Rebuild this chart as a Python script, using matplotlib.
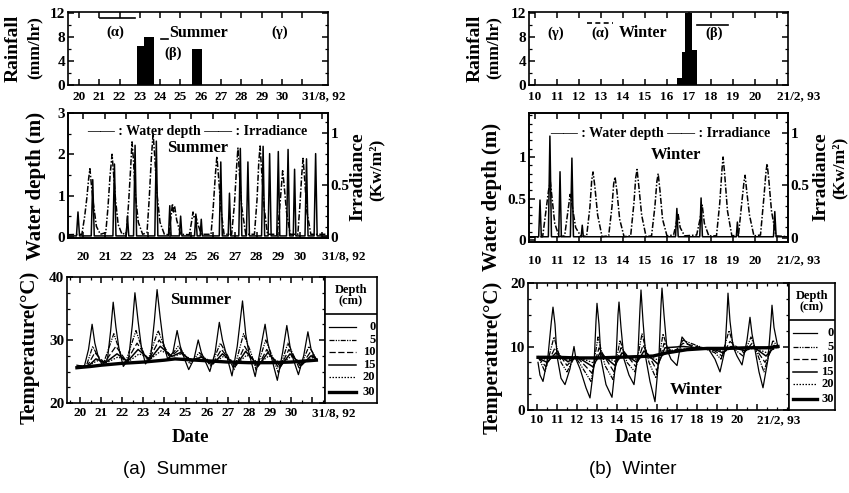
import numpy as np
import matplotlib
matplotlib.use('Agg')
import matplotlib.pyplot as plt
from matplotlib.lines import Line2D
from matplotlib.ticker import MultipleLocator

plt.rcParams['font.family'] = ['Liberation Serif', 'DejaVu Serif']
plt.rcParams['font.weight'] = 'bold'
plt.rcParams['axes.linewidth'] = 1.2

# ---------------- data ----------------
# rainfall bars: start day, end day, mm/hr
summer_rain_start = [22.86, 23.20, 25.57]
summer_rain_end = [23.20, 23.69, 26.06]
summer_rain_mm = [6.5, 8.0, 6.0]

winter_rain_start = [16.45, 16.68, 16.82, 17.14]
winter_rain_end = [16.68, 16.82, 17.14, 17.36]
winter_rain_mm = [1.2, 5.5, 12.0, 5.8]

summer_days = list(range(20, 32))
summer_day_labels = [str(d) for d in range(20, 31)] + ['31/8, 92']
winter_days = list(range(10, 22))
winter_day_labels = [str(d) for d in range(10, 21)] + ['21/2, 93']

# water depth (m), (day, value)
summer_depth = [
    (19.31, 0.05), (19.95, 0.06), (20.08, 0.5), (20.18, 0.95), (20.26, 1.4), (20.32, 1.65),
    (20.38, 1.3), (20.48, 0.8), (20.62, 0.25), (20.8, 0.06),
    (21.05, 0.1), (21.15, 0.7), (21.25, 1.5), (21.34, 2.0), (21.4, 1.6), (21.5, 0.9), (21.62, 0.3), (21.8, 0.06),
    (22.0, 0.1), (22.1, 0.8), (22.2, 1.7), (22.26, 2.3), (22.32, 1.9), (22.42, 1.0), (22.55, 0.35), (22.75, 0.06),
    (22.95, 0.1), (23.05, 0.9), (23.15, 1.9), (23.23, 2.5), (23.3, 2.0), (23.4, 1.1), (23.55, 0.35), (23.75, 0.06),
    (23.95, 0.05), (24.05, 0.45), (24.12, 0.8), (24.17, 0.6), (24.22, 0.75), (24.32, 0.4), (24.5, 0.06),
    (24.9, 0.05), (25.0, 0.35), (25.07, 0.6), (25.12, 0.45), (25.2, 0.5), (25.3, 0.3), (25.45, 0.06),
    (25.9, 0.06), (26.0, 0.7), (26.1, 1.5), (26.17, 1.95), (26.24, 1.5), (26.35, 0.7), (26.5, 0.06),
    (26.85, 0.06), (26.98, 0.8), (27.08, 1.7), (27.14, 2.15), (27.2, 1.6), (27.32, 0.7), (27.5, 0.06),
    (27.9, 0.06), (28.02, 0.9), (28.1, 1.8), (28.16, 2.2), (28.22, 1.7), (28.35, 0.7), (28.5, 0.06),
    (28.95, 0.06), (29.05, 0.6), (29.14, 1.2), (29.2, 1.6), (29.26, 1.3), (29.38, 0.6), (29.55, 0.06),
    (29.9, 0.06), (30.0, 0.8), (30.08, 1.5), (30.14, 1.9), (30.2, 1.5), (30.32, 0.6), (30.5, 0.06), (31.29, 0.06)]

winter_depth = [
    (9.73, 0.03), (10.35, 0.04), (10.5, 0.35), (10.62, 0.6), (10.7, 0.7), (10.78, 0.5), (10.9, 0.2), (11.1, 0.04),
    (11.35, 0.05), (11.5, 0.35), (11.6, 0.55), (11.7, 0.4), (11.85, 0.15), (12.1, 0.04),
    (12.35, 0.05), (12.5, 0.4), (12.58, 0.72), (12.64, 0.82), (12.72, 0.65), (12.85, 0.3), (13.05, 0.04),
    (13.35, 0.05), (13.5, 0.4), (13.58, 0.68), (13.64, 0.76), (13.72, 0.6), (13.85, 0.25), (14.05, 0.04),
    (14.35, 0.05), (14.5, 0.45), (14.58, 0.75), (14.64, 0.85), (14.72, 0.65), (14.85, 0.3), (15.05, 0.04),
    (15.3, 0.05), (15.45, 0.4), (15.54, 0.7), (15.6, 0.8), (15.68, 0.6), (15.8, 0.25), (16.0, 0.05),
    (16.3, 0.06), (16.42, 0.2), (16.5, 0.32), (16.6, 0.15), (16.8, 0.05),
    (17.35, 0.06), (17.5, 0.25), (17.6, 0.42), (17.7, 0.2), (17.9, 0.05),
    (18.25, 0.05), (18.4, 0.45), (18.5, 0.85), (18.55, 1.0), (18.62, 0.8), (18.75, 0.35), (18.95, 0.05),
    (19.25, 0.06), (19.4, 0.45), (19.5, 0.7), (19.55, 0.78), (19.62, 0.6), (19.75, 0.3), (19.95, 0.05),
    (20.25, 0.06), (20.4, 0.5), (20.5, 0.82), (20.55, 0.92), (20.62, 0.75), (20.75, 0.35), (20.95, 0.05),
    (21.5, 0.04)]

# irradiance (kW/m2), (day, value)
summer_irr = [
    (19.31, 0.01), (19.7, 0.01), (19.77, 0.24), (19.84, 0.01),
    (20.38, 0.01), (20.45, 0.55), (20.52, 0.01),
    (21.38, 0.01), (21.45, 0.70), (21.52, 0.01),
    (21.99, 0.01), (22.05, 0.20), (22.11, 0.01),
    (22.33, 0.01), (22.40, 0.88), (22.47, 0.01),
    (23.31, 0.01), (23.38, 0.92), (23.45, 0.01),
    (23.94, 0.01), (24.00, 0.30), (24.06, 0.01),
    (24.44, 0.01), (24.50, 0.20), (24.56, 0.01),
    (25.14, 0.01), (25.20, 0.22), (25.26, 0.01),
    (25.40, 0.01), (25.45, 0.17), (25.50, 0.01),
    (26.28, 0.01), (26.35, 0.72), (26.42, 0.01),
    (26.69, 0.01), (26.75, 0.42), (26.81, 0.01),
    (27.18, 0.01), (27.25, 0.85), (27.32, 0.01),
    (27.53, 0.01), (27.60, 0.72), (27.67, 0.01),
    (28.23, 0.01), (28.30, 0.87), (28.37, 0.01),
    (28.53, 0.01), (28.60, 0.80), (28.67, 0.01),
    (28.93, 0.01), (29.00, 0.82), (29.07, 0.01),
    (29.38, 0.01), (29.45, 0.84), (29.52, 0.01),
    (29.69, 0.01), (29.75, 0.65), (29.81, 0.01),
    (30.23, 0.01), (30.30, 0.75), (30.37, 0.01),
    (30.65, 0.01), (30.72, 0.80), (30.79, 0.01),
    (31.29, 0.01)]

winter_irr = [
    (9.73, 0.01), (10.17, 0.01), (10.23, 0.36), (10.29, 0.01),
    (10.61, 0.01), (10.68, 0.97), (10.75, 0.01),
    (11.08, 0.01), (11.14, 0.63), (11.20, 0.01),
    (11.61, 0.01), (11.68, 0.76), (11.75, 0.01),
    (12.10, 0.01), (12.15, 0.12), (12.20, 0.01),
    (16.39, 0.01), (16.45, 0.28), (16.51, 0.01),
    (17.49, 0.01), (17.55, 0.38), (17.61, 0.01),
    (19.15, 0.01), (19.20, 0.15), (19.25, 0.01),
    (20.84, 0.01), (20.90, 0.25), (20.96, 0.01),
    (21.5, 0.01)]

# sand temperature (deg C) at each depth, (day, value)
depth_labels = ['0', '5', '10', '15', '20', '30']

summer_t0 = [
    (19.85, 26.0), (20.2, 25.8), (20.4, 28.5), (20.57, 32.5), (20.7, 29.5), (20.85, 27.5), (21.05, 26.0),
    (21.3, 27.0), (21.45, 31.5), (21.57, 36.0), (21.7, 32.0), (21.85, 28.5), (22.05, 25.8), (22.3, 27.0),
    (22.48, 32.5), (22.6, 37.5), (22.75, 33.0), (22.9, 29.0), (23.1, 26.2), (23.35, 27.5), (23.52, 33.0),
    (23.65, 38.0), (23.8, 33.5), (23.95, 29.5), (24.15, 27.0), (24.4, 28.0), (24.6, 31.5), (24.75, 29.0),
    (24.95, 27.0), (25.15, 25.3), (25.4, 27.0), (25.6, 30.0), (25.75, 28.0), (25.95, 26.5), (26.15, 25.0),
    (26.4, 28.0), (26.6, 32.8), (26.75, 30.0), (26.95, 27.5), (27.2, 24.3), (27.45, 29.0), (27.7, 36.2),
    (27.85, 31.0), (28.0, 28.0), (28.3, 24.2), (28.55, 28.5), (28.77, 32.5), (28.9, 29.5), (29.05, 27.5),
    (29.35, 23.6), (29.6, 28.0), (29.8, 32.3), (29.95, 29.0), (30.1, 27.0), (30.35, 24.5), (30.6, 27.5),
    (30.8, 31.3), (30.95, 28.5), (31.2, 26.8)]
summer_t5 = [
    (19.85, 25.8), (20.3, 25.9), (20.6, 29.0), (20.9, 27.0), (21.1, 26.2), (21.6, 31.0), (21.95, 27.5),
    (22.15, 26.4), (22.65, 31.5), (23.0, 28.0), (23.2, 26.6), (23.7, 31.5), (24.05, 28.5), (24.25, 27.2),
    (24.65, 29.0), (25.0, 27.5), (25.2, 26.2), (25.65, 28.0), (25.95, 27.0), (26.2, 25.8), (26.65, 29.5),
    (27.0, 27.5), (27.3, 25.3), (27.75, 31.0), (28.1, 28.0), (28.35, 25.2), (28.8, 30.0), (29.1, 27.5),
    (29.4, 24.8), (29.85, 29.5), (30.2, 27.0), (30.4, 25.4), (30.85, 29.0), (31.2, 27.0)]
summer_t10 = [
    (19.85, 25.7), (20.35, 25.9), (20.7, 28.0), (21.15, 26.4), (21.7, 29.0), (22.2, 26.6), (22.7, 29.5),
    (23.25, 26.8), (23.75, 30.0), (24.3, 27.4), (24.7, 28.5), (25.25, 26.5), (25.7, 27.5), (26.25, 26.0),
    (26.7, 28.5), (27.35, 25.7), (27.8, 29.0), (28.4, 25.6), (28.85, 28.5), (29.45, 25.4), (29.9, 28.5),
    (30.45, 25.8), (30.9, 28.0), (31.2, 27.0)]
summer_t15 = [
    (19.85, 25.7), (20.4, 25.9), (20.75, 27.0), (21.2, 26.4), (21.75, 27.8), (22.25, 26.6), (22.75, 28.5),
    (23.3, 26.9), (23.8, 29.0), (24.35, 27.4), (24.75, 28.0), (25.3, 26.7), (25.75, 27.3), (26.3, 26.2),
    (26.75, 27.8), (27.4, 26.0), (27.85, 28.2), (28.45, 25.9), (28.9, 28.0), (29.5, 25.8), (29.95, 27.8),
    (30.5, 26.0), (30.95, 27.5), (31.2, 27.0)]
summer_t20 = [
    (19.85, 25.8), (20.45, 26.0), (20.8, 26.7), (21.25, 26.4), (21.8, 27.3), (22.3, 26.6), (22.8, 27.8),
    (23.35, 27.0), (23.85, 28.3), (24.4, 27.4), (24.8, 27.8), (25.35, 26.8), (25.8, 27.3), (26.35, 26.4),
    (26.8, 27.4), (27.45, 26.3), (27.9, 27.6), (28.5, 26.3), (28.95, 27.5), (29.55, 26.2), (30.0, 27.4),
    (30.55, 26.3), (31.0, 27.2), (31.2, 27.0)]
summer_t30 = [
    (19.85, 25.6), (20.5, 25.8), (21.0, 26.0), (22.0, 26.3), (23.0, 26.5), (24.0, 26.8), (24.5, 27.0),
    (25.0, 26.9), (26.0, 26.7), (27.0, 26.5), (28.0, 26.4), (29.0, 26.4), (30.0, 26.5), (31.2, 26.8)]

winter_t0 = [
    (10.05, 7.5), (10.15, 5.5), (10.3, 4.5), (10.55, 8.5), (10.72, 14.0), (10.8, 16.2), (10.9, 13.5),
    (11.0, 8.5), (11.2, 5.0), (11.4, 4.0), (11.65, 6.5), (11.85, 10.0), (11.95, 8.0), (12.15, 6.5),
    (12.45, 3.5), (12.65, 1.9), (12.85, 7.0), (12.95, 14.0), (13.0, 16.8), (13.1, 13.5), (13.2, 8.0),
    (13.45, 4.0), (13.75, 2.0), (13.95, 8.0), (14.05, 15.0), (14.1, 17.0), (14.2, 13.0), (14.35, 8.0),
    (14.6, 5.5), (14.85, 4.0), (15.05, 9.0), (15.15, 16.0), (15.2, 18.9), (15.3, 14.0), (15.45, 8.0),
    (15.65, 4.5), (15.9, 1.3), (16.1, 8.5), (16.2, 16.5), (16.25, 19.2), (16.35, 15.0), (16.5, 9.5),
    (16.7, 8.0), (17.0, 7.0), (17.25, 11.5), (17.5, 10.5), (17.8, 9.8), (18.2, 9.6), (18.6, 9.5),
    (18.9, 8.0), (19.15, 6.0), (19.4, 9.5), (19.5, 15.0), (19.55, 18.4), (19.65, 14.0), (19.8, 10.0),
    (20.0, 8.5), (20.25, 7.1), (20.5, 11.0), (20.65, 14.6), (20.75, 12.0), (20.9, 9.5), (21.1, 6.0),
    (21.3, 3.5), (21.55, 8.0), (21.7, 14.0), (21.75, 16.5), (21.85, 13.0), (22.05, 9.8)]
winter_t5 = [
    (10.05, 8.5), (10.4, 6.0), (10.85, 11.5), (11.2, 7.5), (11.5, 6.0), (11.9, 8.5), (12.3, 6.5),
    (12.7, 4.5), (13.05, 11.5), (13.4, 7.0), (13.8, 4.8), (14.15, 11.0), (14.5, 7.5), (14.9, 6.0),
    (15.25, 12.0), (15.6, 7.5), (15.95, 5.0), (16.3, 12.0), (16.6, 9.0), (17.0, 9.5), (17.3, 11.0),
    (17.7, 10.5), (18.3, 9.8), (18.9, 9.0), (19.2, 8.0), (19.6, 12.5), (19.9, 9.5), (20.3, 8.5),
    (20.7, 11.5), (21.0, 9.0), (21.35, 6.0), (21.8, 11.0), (22.05, 9.8)]
winter_t10 = [
    (10.05, 8.3), (10.45, 6.8), (10.9, 9.8), (11.5, 7.0), (11.95, 8.5), (12.75, 5.8), (13.1, 9.8),
    (13.85, 6.0), (14.2, 9.8), (14.95, 6.8), (15.3, 10.2), (16.0, 6.2), (16.35, 10.5), (16.8, 9.0),
    (17.3, 10.5), (18.0, 10.0), (18.9, 9.3), (19.25, 8.5), (19.65, 10.8), (20.35, 9.0), (20.75, 10.5),
    (21.4, 7.5), (21.85, 10.2), (22.05, 9.9)]
winter_t15 = [
    (10.05, 8.2), (10.5, 7.5), (10.95, 9.0), (11.55, 7.6), (12.0, 8.4), (12.8, 6.8), (13.15, 9.0),
    (13.9, 7.0), (14.25, 9.0), (15.0, 7.5), (15.35, 9.3), (16.05, 7.2), (16.4, 9.8), (17.3, 10.0),
    (18.0, 9.8), (18.9, 9.5), (19.3, 9.0), (19.7, 10.0), (20.4, 9.3), (20.8, 10.0), (21.45, 8.5),
    (21.9, 10.0), (22.05, 9.9)]
winter_t20 = [
    (10.05, 8.3), (10.55, 7.9), (11.0, 8.6), (11.6, 7.9), (12.05, 8.3), (12.85, 7.4), (13.2, 8.6),
    (13.95, 7.6), (14.3, 8.6), (15.05, 7.9), (15.4, 8.8), (16.1, 7.8), (16.45, 9.3), (17.3, 9.6),
    (18.0, 9.6), (19.0, 9.5), (19.35, 9.2), (19.75, 9.8), (20.45, 9.4), (20.85, 9.8), (21.5, 9.0),
    (21.95, 9.8), (22.05, 9.8)]
winter_t30 = [
    (10.05, 8.3), (11.0, 8.3), (12.0, 8.2), (13.0, 8.2), (14.0, 8.3), (15.0, 8.4), (15.8, 8.5),
    (16.5, 9.0), (17.5, 9.5), (18.5, 9.7), (19.5, 9.7), (20.5, 9.8), (21.5, 9.8), (22.05, 10.0)]

summer_temps = [summer_t0, summer_t5, summer_t10, summer_t15, summer_t20, summer_t30]
winter_temps = [winter_t0, winter_t5, winter_t10, winter_t15, winter_t20, winter_t30]

# line styles for 0, 5, 10, 15, 20, 30 cm
depth_styles = [
    dict(ls='-', lw=0.9),
    dict(ls=(0, (4, 1, 1, 1, 1, 1)), lw=0.9),
    dict(ls=(0, (5, 2)), lw=0.9),
    dict(ls='-', lw=1.1),
    dict(ls=(0, (1.2, 1.2)), lw=0.9),
    dict(ls='-', lw=2.4),
]

# ---------------- figure ----------------
W, H = 849, 493
fig = plt.figure(figsize=(W / 100, H / 100), dpi=100)


def box(l, t, r, b):
    return fig.add_axes([l / W, 1 - b / H, (r - l) / W, (b - t) / H])


def ftext(x, y, s, **kw):
    kw.setdefault('ha', 'center')
    kw.setdefault('va', 'center')
    fig.text(x / W, 1 - y / H, s, **kw)


def fline(x1, x2, y, **kw):
    fig.add_artist(Line2D([x1 / W, x2 / W], [1 - y / H, 1 - y / H],
                          transform=fig.transFigure, color='black', lw=1.2, **kw))


def day_axis(ax, days, labels, pad, minor=None):
    ax.set_xticks(days)
    ax.set_xticklabels(labels)
    ax.get_xticklabels()[-1].set_ha('left')
    if minor:
        ax.xaxis.set_minor_locator(MultipleLocator(minor))
    ax.tick_params(which='both', direction='in', top=True, right=True)
    ax.tick_params(which='major', length=4.5, width=1.1, labelsize=9.5)
    ax.tick_params(which='minor', length=2.5, width=0.9)
    ax.tick_params(axis='x', pad=pad)
    ax.tick_params(axis='y', pad=2, labelsize=11)


def xy(pairs):
    a = np.array(pairs)
    return a[:, 0], a[:, 1]


# rainfall
for l, r, start, end, mm, days, labels, xlim in [
        (68, 328, summer_rain_start, summer_rain_end, summer_rain_mm,
         summer_days, summer_day_labels, (19.46, 32.27)),
        (529, 788, winter_rain_start, winter_rain_end, winter_rain_mm,
         winter_days, winter_day_labels, (9.73, 21.5))]:
    ax = box(l, 12, r, 85)
    ax.bar(start, mm, width=np.array(end) - np.array(start), align='edge',
           color='black')
    ax.set_xlim(*xlim)
    ax.set_ylim(0, 12.2)
    ax.set_yticks([0, 4, 8, 12])
    ax.yaxis.set_minor_locator(MultipleLocator(2))
    day_axis(ax, days, labels, pad=4)

# water depth + irradiance
for l, r, b, depth, irr, days, labels, xlim, ylim, yt, ytl, ymin, irr_lo in [
        (68, 328, 238, summer_depth, summer_irr, summer_days, summer_day_labels,
         (19.31, 31.29), (-0.03, 3.0), [0, 1, 2, 3], ['0', '1', '2', '3'], 0.5, -0.01),
        (529, 788, 242, winter_depth, winter_irr, winter_days, winter_day_labels,
         (9.73, 21.5), (-0.024, 1.53), [0, 0.5, 1], ['0', '0.5', '1'], 0.1, -0.04)]:
    ax = box(l, 113, r, b)
    t, v = xy(depth)
    ax.plot(t, v, color='black', lw=1.1, ls=(0, (4, 1.2, 1, 1.2)))
    ax.set_xlim(*xlim)
    ax.set_ylim(*ylim)
    ax.set_yticks(yt)
    ax.set_yticklabels(ytl)
    ax.yaxis.set_minor_locator(MultipleLocator(ymin))
    day_axis(ax, days, labels, pad=9)
    ax.tick_params(axis='y', which='both', right=False)
    ax2 = ax.twinx()
    t, v = xy(irr)
    ax2.plot(t, v, color='black', lw=1.1)
    ax2.set_ylim(irr_lo, 1.19)
    ax2.set_yticks([0, 0.5, 1])
    ax2.set_yticklabels(['0', '0.5', '1'])
    ax2.yaxis.set_minor_locator(MultipleLocator(0.1))
    ax2.tick_params(which='both', direction='in', labelsize=11, pad=2)
    ax2.tick_params(which='major', length=4.5, width=1.1)
    ax2.tick_params(which='minor', length=2.5, width=0.9)

# sand temperature with depth key
for l, t0, r, b, rk, temps, days, labels, xlim, ylim, yt in [
        (67, 277, 325, 403, 377, summer_temps, summer_days, summer_day_labels,
         (19.38, 31.61), (20, 40), [20, 30, 40]),
        (528, 283, 789, 410, 835, winter_temps, winter_days, winter_day_labels,
         (9.55, 22.6), (0, 20), [0, 10, 20])]:
    ax = box(l, t0, r, b)
    for series, st in zip(temps, depth_styles):
        t, v = xy(series)
        ax.plot(t, v, color='black', **st)
    ax.set_xlim(*xlim)
    ax.set_ylim(*ylim)
    ax.set_yticks(yt)
    ax.yaxis.set_minor_locator(MultipleLocator(2.5))
    day_axis(ax, days, labels, pad=3, minor=0.5)

    key = box(r, t0, rk, b)
    key.set_xlim(0, 1)
    key.set_ylim(0, 1)
    key.set_xticks([])
    key.set_yticks([])
    hdr = 1 - 37 / (b - t0)
    key.axhline(hdr, color='black', lw=1.2)
    key.text(0.5, (1 + hdr) / 2, 'Depth\n(cm)', ha='center', va='center',
             fontsize=9, linespacing=0.95)
    rows = [0.605, 0.5, 0.405, 0.302, 0.206, 0.087]
    for y, lab, st in zip(rows, depth_labels, depth_styles):
        key.plot([0.08, 0.6], [y, y], color='black', **st)
        key.text(0.97, y, lab, ha='right', va='center', fontsize=9)

# in-panel notes
ftext(115, 32, '(α)', fontsize=10.5)
fline(100, 135, 18)
fline(161, 168, 39)
ftext(199, 33, 'Summer', fontsize=11.5)
ftext(173, 53, '(β)', fontsize=10.5)
ftext(280, 32, '(γ)', fontsize=10.5)

ftext(556, 33, '(γ)', fontsize=10.5)
ftext(600, 33, '(α)', fontsize=10.5)
fline(587, 613, 23, ls=(0, (3, 2)))
ftext(643, 33, 'Winter', fontsize=11.5)
ftext(714, 33, '(β)', fontsize=10.5)
fline(697, 728, 25)

ftext(197, 132, '—— : Water depth —— : Irradiance', fontsize=10)
ftext(198, 148, 'Summer', fontsize=12)
ftext(660, 133, '—— : Water depth —— : Irradiance', fontsize=10)
ftext(676, 155, 'Winter', fontsize=12)
ftext(201, 300, 'Summer', fontsize=12)
ftext(696, 390, 'Winter', fontsize=12.5)

# axis titles
ftext(13, 48, 'Rainfall', rotation=90, fontsize=14)
ftext(35, 48, '(mm/hr)', rotation=90, fontsize=12.5)
ftext(36, 186, 'Water depth (m)', rotation=90, fontsize=15)
ftext(30, 347, 'Temperature(°C)', rotation=90, fontsize=15)
ftext(358, 177, 'Irradiance', rotation=90, fontsize=14)
ftext(377, 170, '(Kw/m²)', rotation=90, fontsize=12.5)
ftext(190, 438, 'Date', fontsize=13.5)

ftext(475, 48, 'Rainfall', rotation=90, fontsize=14)
ftext(494, 48, '(mm/hr)', rotation=90, fontsize=12.5)
ftext(492, 197, 'Water depth (m)', rotation=90, fontsize=15)
ftext(493, 357, 'Temperature(°C)', rotation=90, fontsize=15)
ftext(821, 177, 'Irradiance', rotation=90, fontsize=14)
ftext(840, 168, '(Kw/m²)', rotation=90, fontsize=12.5)
ftext(633, 438, 'Date', fontsize=13.5)

ftext(175, 470, '(a)  Summer', fontsize=13.5, fontweight='normal',
      family=['Liberation Sans', 'DejaVu Sans'])
ftext(633, 470, '(b)  Winter', fontsize=13.5, fontweight='normal',
      family=['Liberation Sans', 'DejaVu Sans'])

fig.savefig('out.png', dpi=100)
